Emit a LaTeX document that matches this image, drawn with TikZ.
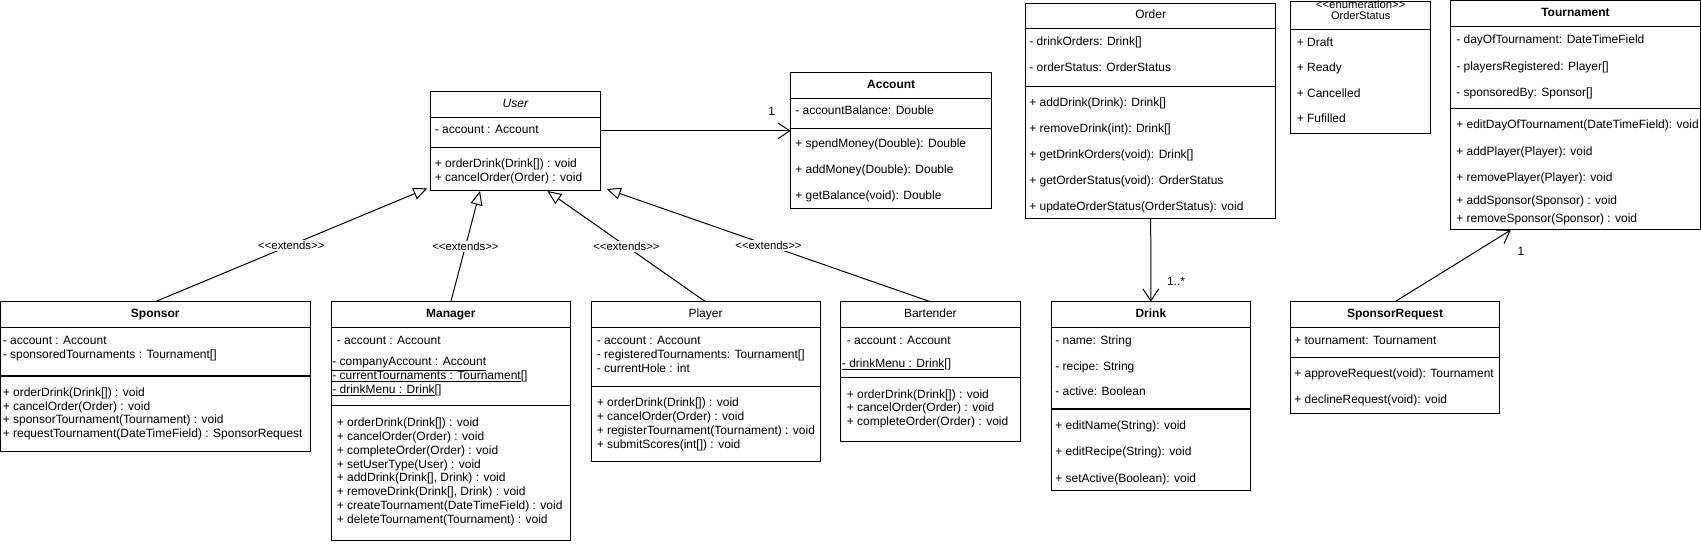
\documentclass[tikz,border=0pt]{standalone}
\usepackage{fontspec}
\setmainfont{Liberation Sans}
\usetikzlibrary{arrows.meta}
\tikzset{classbox/.style={draw=black, line width=0.75pt, anchor=north west, inner sep=0pt, outer sep=0pt},
boxsize/.style 2 args={minimum width=#1*0.75pt, minimum height=#2*0.75pt},
%member lines are placed by their left end
member/.style={anchor=west, inner sep=0pt, text height=6.4pt, text depth=1.9pt, font=\fontsize{9}{10.8}\selectfont},
title/.style={inner sep=0pt, text height=6.4pt, text depth=1.9pt, font=\fontsize{9}{10.8}\selectfont},
divider/.style={line width=0.9pt},
extends/.style={-{Triangle[open, length=10.5pt, width=9pt]}, line width=0.75pt},
assoc/.style={-{Straight Barb[length=9pt, width=12pt]}, line width=0.75pt},
stereo/.style={fill=white, inner sep=1pt, font=\fontsize{8.5}{10}\selectfont},
mult/.style={inner sep=0pt, font=\fontsize{9}{10.8}\selectfont}}
% guillemets written as two separate signs
\newcommand{\ltlt}{<\kern0pt<}
\newcommand{\gtgt}{>\kern0pt>}

\begin{document}
\begin{tikzpicture}[x=0.75pt, y=-0.75pt]
    \useasboundingbox (0,0) rectangle (1701,545);

    % User
    \node[classbox, boxsize={170.7}{99.5}] (user) at (430,91.5) {};
    \node[title] (user-t) at (515.35,104.4) {\itshape User};
    \draw (430,117.3) -- (600.7,117.3);
    \node[member] (user-a1) at (434.5,130.7) {- account : Account};
    \draw[divider] (430,147.7) -- (600.7,147.7);
    \foreach \t [count=\i] in {{+ orderDrink(Drink[]) : void},{+ cancelOrder(Order) : void}}
    \node[member] (user-m\i) at (434.5,165+14*\i-14) {\t};

    % Account
    \node[classbox, boxsize={201}{136.3}] (account) at (790.7,72.7) {};
    \node[title] (account-t) at (891.2,85.7) {\bfseries Account};
    \draw (790.7,98.7) -- (991.7,98.7);
    \node[member] (account-a1) at (795,111.3) {- accountBalance: Double};
    \draw[divider] (790.7,128.3) -- (991.7,128.3);
    \foreach \t [count=\i] in {{+ spendMoney(Double): Double},{+ addMoney(Double): Double},{+ getBalance(void): Double}}
    \node[member] (account-m\i) at (795,145+26*\i-26) {\t};

    % Order
    \node[classbox, boxsize={250}{214.8}] (order) at (1025.7,3.5) {};
    \node[title] (order-t) at (1150.7,15.9) {Order};
    \draw (1025.7,28.3) -- (1275.7,28.3);
    \foreach \t [count=\i] in {{- drinkOrders: Drink[]},{- orderStatus: OrderStatus}}
    \node[member] (order-a\i) at (1029,42.5+26.5*\i-26.5) {\t};
    \draw[divider] (1025.7,86.7) -- (1275.7,86.7);
    \foreach \t [count=\i] in {{+ addDrink(Drink): Drink[]},{+ removeDrink(int): Drink[]},{+ getDrinkOrders(void): Drink[]},{+ getOrderStatus(void): OrderStatus},{+ updateOrderStatus(OrderStatus): void}}
    \node[member] (order-m\i) at (1029,103.5+26*\i-26) {\t};

    % OrderStatus
    \node[classbox, boxsize={140}{132}] (ostatus) at (1290.7,1.3) {};
    \node[title, font=\fontsize{8.5}{10}\selectfont] (ostatus-s) at (1360.7,5.8) {\ltlt enumeration\gtgt};
    \node[title, font=\fontsize{8.25}{9.9}\selectfont] (ostatus-t) at (1360.7,16.3) {OrderStatus};
    \draw (1290.7,29.3) -- (1430.7,29.3);
    \foreach \t [count=\i] in {{+ Draft},{+ Ready},{+ Cancelled},{+ Fufilled}}
    \node[member] (ostatus-v\i) at (1296.5,43.5+25.5*\i-25.5) {\t};

    % Tournament
    \node[classbox, boxsize={249.5}{229}] (tournament) at (1450.7,1) {};
    \node[title] (tournament-t) at (1575.45,13.5) {\bfseries Tournament};
    \draw (1450.7,26) -- (1700.2,26);
    \foreach \t [count=\i] in {{- dayOfTournament: DateTimeField},{- playersRegistered: Player[]},{- sponsoredBy: Sponsor[]}}
    \node[member] (tournament-a\i) at (1456,40.5+26.7*\i-26.7) {\t};
    \draw[divider] (1450.7,108.3) -- (1700.2,108.3);
    \foreach \y/\t [count=\i] in {125.7/{+ editDayOfTournament(DateTimeField): void},152.3/{+ addPlayer(Player): void},178.3/{+ removePlayer(Player): void},201.7/{+ addSponsor(Sponsor) : void},220/{+ removeSponsor(Sponsor) : void}}
    \node[member] (tournament-m\i) at (1456,\y) {\t};

    % Sponsor
    \node[classbox, boxsize={309.5}{150}] (sponsor) at (0.5,301.7) {};
    \node[title] (sponsor-t) at (155.25,314.5) {\bfseries Sponsor};
    \draw (0.5,327.3) -- (310,327.3);
    \foreach \t [count=\i] in {{- account : Account},{- sponsoredTournaments : Tournament[]}}
    \node[member] (sponsor-a\i) at (2.5,341.7+13.5*\i-13.5) {\t};
    \draw[divider] (0.5,376) -- (310,376);
    \foreach \t [count=\i] in {{+ orderDrink(Drink[]) : void},{+ cancelOrder(Order) : void},{+ sponsorTournament(Tournament) : void},{+ requestTournament(DateTimeField) : SponsorRequest}}
    \node[member] (sponsor-m\i) at (2.5,393.3+13.7*\i-13.7) {\t};

    % Manager
    \node[classbox, boxsize={239.7}{238.3}] (manager) at (331,301.7) {};
    \node[title] (manager-t) at (450.85,314.5) {\bfseries Manager};
    \draw (331,327.3) -- (570.7,327.3);
    \node[member] (manager-a1) at (336.5,341.7) {- account : Account};
    \foreach \t [count=\i] in {{\underline{- companyAccount : Account}},{\underline{- currentTournaments : Tournament}[]},{\underline{- drinkMenu : Drink}[]}}
    \node[member] (manager-s\i) at (332,362.7+14*\i-14) {\t};
    \draw[divider] (331,405.7) -- (570.7,405.7);
    \foreach \t [count=\i] in {{+ orderDrink(Drink[]) : void},{+ cancelOrder(Order) : void},{+ completeOrder(Order) : void},{+ setUserType(User) : void},{+ addDrink(Drink[], Drink) : void},{+ removeDrink(Drink[], Drink) : void},{+ createTournament(DateTimeField) : void},{+ deleteTournament(Tournament) : void}}
    \node[member] (manager-m\i) at (336.5,423.3+13.9*\i-13.9) {\t};

    % Player
    \node[classbox, boxsize={229}{160}] (player) at (591,301.7) {};
    \node[title] (player-t) at (705.5,314.5) {Player};
    \draw (591,327.3) -- (820,327.3);
    \foreach \t [count=\i] in {{- account : Account},{- registeredTournaments: Tournament[]},{- currentHole : int}}
    \node[member] (player-a\i) at (596.5,341+14*\i-14) {\t};
    \draw[divider] (591,386.7) -- (820,386.7);
    \foreach \t [count=\i] in {{+ orderDrink(Drink[]) : void},{+ cancelOrder(Order) : void},{+ registerTournament(Tournament) : void},{+ submitScores(int[]) : void}}
    \node[member] (player-m\i) at (596.5,403.3+13.9*\i-13.9) {\t};

    % Bartender
    \node[classbox, boxsize={179.3}{139.3}] (bartender) at (840.7,301.7) {};
    \node[title] (bartender-t) at (930.35,314.5) {Bartender};
    \draw (840.7,327.3) -- (1020,327.3);
    \node[member] (bartender-a1) at (846.5,341) {- account : Account};
    \node[member] (bartender-s1) at (841.7,364) {\underline{- drinkMenu : Drink}[]};
    \draw[divider] (840.7,377.7) -- (1020,377.7);
    \foreach \t [count=\i] in {{+ orderDrink(Drink[]) : void},{+ cancelOrder(Order) : void},{+ completeOrder(Order) : void}}
    \node[member] (bartender-m\i) at (846.5,395+13.9*\i-13.9) {\t};

    % Drink
    \node[classbox, boxsize={199.7}{188.3}] (drink) at (1051,301.7) {};
    \node[title] (drink-t) at (1150.85,314.5) {\bfseries Drink};
    \draw (1051,327.3) -- (1250.7,327.3);
    \foreach \t [count=\i] in {{- name: String},{- recipe: String},{- active: Boolean}}
    \node[member] (drink-a\i) at (1055,341.7+25.5*\i-25.5) {\t};
    \draw[divider] (1051,409) -- (1250.7,409);
    \foreach \t [count=\i] in {{+ editName(String): void},{+ editRecipe(String): void},{+ setActive(Boolean): void}}
    \node[member] (drink-m\i) at (1055,426.7+26.2*\i-26.2) {\t};

    % SponsorRequest
    \node[classbox, boxsize={208.6}{111.6}] (sreq) at (1290.7,301.7) {};
    \node[title] (sreq-t) at (1395,314.5) {\bfseries SponsorRequest};
    \draw (1290.7,327.3) -- (1499.3,327.3);
    \node[member] (sreq-a1) at (1294,341.7) {+ tournament: Tournament};
    \draw[divider] (1290.7,357.7) -- (1499.3,357.7);
    \foreach \t [count=\i] in {{+ approveRequest(void): Tournament},{+ declineRequest(void): void}}
    \node[member] (sreq-m\i) at (1294,374+26.7*\i-26.7) {\t};

    % inheritance
    \draw[extends] (sponsor.north) -- node[stereo] (ext-sponsor) {\ltlt extends\gtgt} ([xshift=-2pt, yshift=2pt]user.south west);
    \draw[extends] (manager.north) -- node[stereo] (ext-manager) {\ltlt extends\gtgt} ([xshift=-26.5pt]user.south);
    \draw[extends] (player.north) -- node[stereo] (ext-player) {\ltlt extends\gtgt} ([xshift=24pt]user.south);
    \draw[extends] (bartender.north) -- node[stereo] (ext-bartender) {\ltlt extends\gtgt} ([xshift=4.5pt, yshift=1.5pt]user.south east);

    % associations
    \draw[assoc] ([yshift=7.8pt]user.east) -- ([yshift=7.8pt]user.east -| account.west);
    \node[mult] (mult-account) at (771.7,111.3) {1};
    \draw[assoc] (order.south) -- (drink.north);
    \node[mult] (mult-drink) at (1176,281) {1..*};
    \draw[assoc] (sreq.north) -- ([xshift=-48.5pt]tournament.south);
    \node[mult] (mult-tournament) at (1521,251.7) {1};

  \end{tikzpicture}
\end{document}
